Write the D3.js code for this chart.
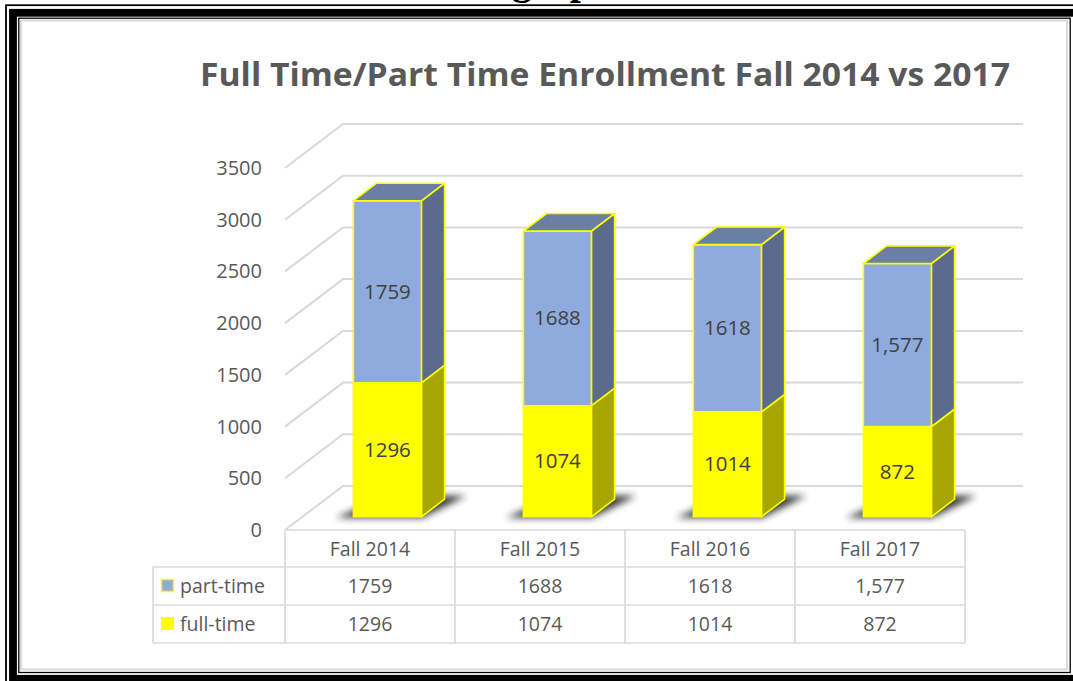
<!DOCTYPE html>
<html>
<head>
<meta charset="utf-8">
<script src="https://cdn.jsdelivr.net/npm/d3@7"></script>
<style>
  body { margin: 0; background: #fff; }
  svg { display: block; font-family: "Open Sans", sans-serif; }
</style>
</head>
<body>
<svg id="chart" width="1073" height="681"></svg>
<script>
// data
var categories = ["Fall 2014", "Fall 2015", "Fall 2016", "Fall 2017"];
var partTime = [1759, 1688, 1618, 1577];
var fullTime = [1296, 1074, 1014, 872];
var partLabels = ["1759", "1688", "1618", "1,577"];
var fullLabels = ["1296", "1074", "1014", "872"];
var yTicks = [0, 500, 1000, 1500, 2000, 2500, 3000, 3500];

var svg = d3.select("#chart");

// page border frame (thin / thick / thin)
svg.append("rect").attr("x", 6).attr("y", 5.2).attr("width", 1090).attr("height", 700)
  .attr("fill", "none").attr("stroke", "#000").attr("stroke-width", 1.8);
svg.append("rect").attr("x", 13).attr("y", 12.8).attr("width", 1070).attr("height", 666)
  .attr("fill", "none").attr("stroke", "#000").attr("stroke-width", 7.8);
svg.append("rect").attr("x", 18.8).attr("y", 18.2).attr("width", 1051.4).attr("height", 654.3)
  .attr("fill", "none").attr("stroke", "#000").attr("stroke-width", 1.3);

// heading above the chart, cut off by the top of the page
svg.append("text").attr("x", 512).attr("y", -6)
  .style("font-family", "'Liberation Serif', serif").style("font-weight", "bold")
  .style("font-size", "40px").attr("fill", "#000").text("graph");

// chart area
svg.append("rect").attr("x", 21).attr("y", 20.5).attr("width", 1046).attr("height", 649)
  .attr("fill", "#fff").attr("stroke", "#d9d9d9").attr("stroke-width", 2);

var defs = svg.append("defs");
defs.append("filter").attr("id", "blur").attr("x", "-50%").attr("y", "-50%")
  .attr("width", "200%").attr("height", "200%")
  .append("feGaussianBlur").attr("stdDeviation", 3.5);

// title
svg.append("text").attr("x", 605).attr("y", 86).attr("text-anchor", "middle")
  .attr("textLength", 810).attr("lengthAdjust", "spacingAndGlyphs")
  .style("font-size", "33px").style("font-weight", "bold").attr("fill", "#595959")
  .text("Full Time/Part Time Enrollment Fall 2014 vs 2017");

// 3d set-up
var x = d3.scaleBand().domain(categories).range([285, 965]);
var y = d3.scaleLinear().domain([0, 3500]).range([530, 168]);
var depthX = 58, depthY = 44;
var zFront = 0.3, zBack = 0.7, halfW = 34;

function pt(px, v, z) {
  return [px + z * depthX, y(v) - z * depthY];
}
function poly(points) {
  return points.map(function(p) { return p[0].toFixed(1) + "," + p[1].toFixed(1); }).join(" ");
}

// gridlines on side wall and back wall
var grid = svg.append("g");
yTicks.forEach(function(t) {
  var a = pt(285, t, 0), b = pt(285, t, 1), c = pt(965, t, 1);
  grid.append("polyline").attr("points", poly([a, b, c]))
    .attr("fill", "none").attr("stroke", "#d9d9d9").attr("stroke-width", 2);
});

// y axis labels
svg.append("g").selectAll("text").data(yTicks).enter().append("text")
  .attr("x", 262).attr("y", function(d) { return y(d) + 7; })
  .attr("text-anchor", "end").style("font-size", "20px").attr("fill", "#595959")
  .text(function(d) { return d; });

var bars = svg.append("g");

var colors = {
  part: { front: "#8faadc", side: "#5b6b8c", top: "#6a7fa6" },
  full: { front: "#ffff00", side: "#a6a600", top: "#cccc00" }
};

categories.forEach(function(cat, i) {
  var cx = x(cat) + x.bandwidth() / 2;
  var l = cx - halfW, r = cx + halfW;

  // floor shadow
  bars.append("polygon")
    .attr("points", poly([pt(l - 16, 0, zFront - 0.02), pt(r + 2, 0, zFront - 0.02),
                          pt(r + 17, 0, zBack + 0.08), pt(l + 5, 0, zBack + 0.08)]))
    .attr("fill", "#202020").attr("opacity", 0.9).attr("filter", "url(#blur)");

  var segs = [
    { v0: 0, v1: fullTime[i], c: colors.full, label: fullLabels[i] },
    { v0: fullTime[i], v1: fullTime[i] + partTime[i], c: colors.part, label: partLabels[i] }
  ];
  segs.forEach(function(s, k) {
    var g = bars.append("g").attr("stroke", "#ffff00").attr("stroke-width", 1.6)
      .attr("stroke-linejoin", "round");
    // right side
    g.append("polygon")
      .attr("points", poly([pt(r, s.v0, zFront), pt(r, s.v0, zBack), pt(r, s.v1, zBack), pt(r, s.v1, zFront)]))
      .attr("fill", s.c.side);
    // front
    g.append("polygon")
      .attr("points", poly([pt(l, s.v0, zFront), pt(r, s.v0, zFront), pt(r, s.v1, zFront), pt(l, s.v1, zFront)]))
      .attr("fill", s.c.front);
    if (k === segs.length - 1) {
      g.append("polygon")
        .attr("points", poly([pt(l, s.v1, zFront), pt(r, s.v1, zFront), pt(r, s.v1, zBack), pt(l, s.v1, zBack)]))
        .attr("fill", s.c.top);
    }
    var mid = pt(cx, (s.v0 + s.v1) / 2, zFront);
    bars.append("text").attr("x", mid[0]).attr("y", mid[1] + 7)
      .attr("text-anchor", "middle").style("font-size", "20.5px").attr("fill", "#404040")
      .text(s.label);
  });
});

// data table
var rowTop = 530, rowH = [37, 38, 38];
var r1 = rowTop + rowH[0], r2 = r1 + rowH[1], r3 = r2 + rowH[2];
var table = svg.append("g").attr("stroke", "#d9d9d9").attr("stroke-width", 1.6);
table.append("line").attr("x1", 285).attr("x2", 965).attr("y1", rowTop).attr("y2", rowTop);
[r1, r2, r3].forEach(function(yy) {
  table.append("line").attr("x1", 153).attr("x2", 965).attr("y1", yy).attr("y2", yy);
});
table.append("line").attr("x1", 153).attr("x2", 153).attr("y1", r1).attr("y2", r3);
categories.concat([null]).forEach(function(cat) {
  var xx = cat ? x(cat) : x(categories[categories.length - 1]) + x.bandwidth();
  table.append("line").attr("x1", xx).attr("x2", xx).attr("y1", rowTop).attr("y2", r3);
});

var ttext = svg.append("g").style("font-size", "19.5px").attr("fill", "#595959")
  .attr("text-anchor", "middle");
categories.forEach(function(cat, i) {
  var cx = x(cat) + x.bandwidth() / 2;
  ttext.append("text").attr("x", cx).attr("y", (rowTop + r1) / 2 + 7).text(cat);
  ttext.append("text").attr("x", cx).attr("y", (r1 + r2) / 2 + 7).text(partLabels[i]);
  ttext.append("text").attr("x", cx).attr("y", (r2 + r3) / 2 + 7).text(fullLabels[i]);
});

// legend keys in the table
svg.append("rect").attr("x", 161.5).attr("y", (r1 + r2) / 2 - 6.5).attr("width", 12).attr("height", 12)
  .attr("fill", colors.part.front).attr("stroke", "#ffff00").attr("stroke-width", 1.5);
svg.append("rect").attr("x", 161).attr("y", (r2 + r3) / 2 - 7).attr("width", 13).attr("height", 13)
  .attr("fill", colors.full.front);
svg.append("text").attr("x", 180).attr("y", (r1 + r2) / 2 + 7)
  .style("font-size", "19.5px").attr("fill", "#595959").text("part-time");
svg.append("text").attr("x", 180).attr("y", (r2 + r3) / 2 + 7)
  .style("font-size", "19.5px").attr("fill", "#595959").text("full-time");
</script>
</body>
</html>
